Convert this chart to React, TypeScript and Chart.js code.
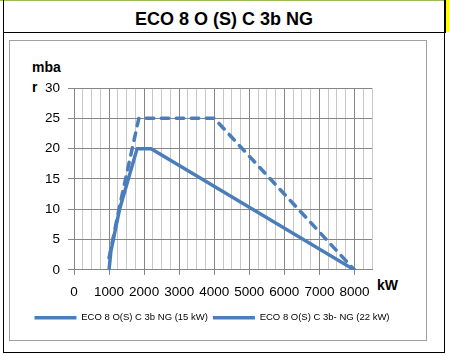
import React, { useEffect, useRef } from "react";
import { Chart, registerables } from "chart.js";

Chart.register(...registerables);

const solidX = [1000, 1050, 1300, 1800, 2200, 8000];
const solidY = [0, 3, 10, 20, 20, 0];
const dashedX = [1000, 1300, 1850, 4000, 8000];
const dashedY = [2, 10.5, 25, 25, 0];
const seriesNames = ["ECO 8 O(S) C 3b NG (15 kW)", "ECO 8 O(S) C 3b- NG (22 kW)"];
const titleText = "ECO 8 O (S) C 3b NG";
const yTitleLines = ["mba", "r"];
const xTitle = "kW";

const BLUE = "#4a7ebb";
const MAJOR = "#868686";
const MINOR = "#c8c8c8";
const FONT = "'Liberation Sans', Arial, sans-serif";

export default function App() {
  const ref = useRef<HTMLCanvasElement | null>(null);

  useEffect(() => {
    if (!ref.current) return;
    const chart = new Chart(ref.current, {
      type: "scatter",
      data: {
        datasets: [
          {
            label: seriesNames[0],
            data: solidX.map((x, i) => ({ x, y: solidY[i] })),
            showLine: true,
            borderColor: BLUE,
            backgroundColor: BLUE,
            borderWidth: 3.5,
            borderCapStyle: "round",
            borderJoinStyle: "round",
            pointRadius: 0,
            tension: 0,
          },
          {
            label: seriesNames[1],
            data: dashedX.map((x, i) => ({ x, y: dashedY[i] })),
            showLine: true,
            borderColor: BLUE,
            backgroundColor: BLUE,
            borderWidth: 3.5,
            borderDash: [7.5, 7.5],
            borderCapStyle: "round",
            borderJoinStyle: "round",
            pointRadius: 0,
            tension: 0,
          },
        ],
      },
      options: {
        animation: false,
        responsive: false,
        layout: { padding: { left: 0, right: 25, top: 88, bottom: 23.6 } },
        plugins: {
          legend: {
            position: "bottom",
            labels: {
              usePointStyle: true,
              pointStyle: "line",
              pointStyleWidth: 42,
              padding: 5,
              color: "#000",
              font: { family: FONT, size: 9.5 },
            },
          },
          tooltip: { enabled: false },
        },
        scales: {
          x: {
            type: "linear",
            min: 0,
            max: 8500,
            ticks: {
              stepSize: 250,
              autoSkip: false,
              maxRotation: 0,
              color: "#000",
              padding: 9,
              font: { family: FONT, size: 13.5 },
              callback: (v: any) => (Number(v) % 1000 === 0 && Number(v) <= 8000 ? String(v) : ""),
            },
            grid: {
              color: (c: any) => (c.tick && c.tick.value % 1000 === 0 ? MAJOR : MINOR),
              tickColor: (c: any) => (c.tick && c.tick.value % 1000 === 0 ? MAJOR : "rgba(0,0,0,0)"),
              tickLength: 5,
              lineWidth: 1,
            },
            border: { color: MAJOR },
            afterFit: (s: any) => {
              s.height = 38;
            },
          },
          y: {
            type: "linear",
            min: 0,
            max: 30,
            ticks: {
              stepSize: 5,
              color: "#000",
              padding: 8,
              font: { family: FONT, size: 13.5 },
            },
            grid: { color: MAJOR, tickLength: 6, lineWidth: 1 },
            border: { color: MAJOR },
            afterFit: (s: any) => {
              s.width = 74;
            },
          },
          y2: {
            type: "linear",
            position: "right",
            display: true,
            grid: { display: false },
            ticks: { display: false },
            border: { display: false },
            afterFit: (s: any) => {
              s.width = 52;
            },
          },
        },
      },
    });
    return () => chart.destroy();
  }, []);

  const abs = (o: React.CSSProperties): React.CSSProperties => ({ position: "absolute", ...o });

  return (
    <div style={{ position: "fixed", left: 0, top: 0, width: 449, height: 356, background: "#fff", overflow: "hidden", fontFamily: FONT }}>
      <div style={abs({ left: 0, top: 0, width: 445, height: 1, background: "#9bbb59" })} />
      <div style={abs({ left: 446, top: 0, width: 3, height: 32, background: "#ffff00" })} />
      <div style={abs({ left: 444, top: 0, width: 2, height: 33, background: "#000" })} />
      <div style={abs({ left: 3, top: 0, width: 1, height: 353, background: "#000" })} />
      <div style={abs({ left: 3, top: 32, width: 442, height: 1, background: "#000" })} />
      <div style={abs({ left: 444, top: 32, width: 1, height: 321, background: "#000" })} />
      <div style={abs({ left: 3, top: 352, width: 442, height: 1, background: "#000" })} />
      <div style={abs({ left: 9, top: 40, width: 416, height: 299, border: "1px solid #a0a0a0" })} />
      <div style={abs({ left: 3, top: 0, width: 442, height: 32, lineHeight: "38px", textAlign: "center", fontWeight: "bold", fontSize: 18, color: "#000" })}>{titleText}</div>
      <div style={abs({ left: 32, top: 60, lineHeight: "14px", fontWeight: "bold", fontSize: 14, color: "#000" })}>{yTitleLines[0]}</div>
      <div style={abs({ left: 32, top: 80, lineHeight: "14px", fontWeight: "bold", fontSize: 14, color: "#000" })}>{yTitleLines[1]}</div>
      <div style={abs({ left: 377, top: 277.5, lineHeight: "14px", fontWeight: "bold", fontSize: 14, color: "#000" })}>{xTitle}</div>
      <canvas ref={ref} width={449} height={356} style={abs({ left: 0, top: 0, width: 449, height: 356 })} />
    </div>
  );
}
